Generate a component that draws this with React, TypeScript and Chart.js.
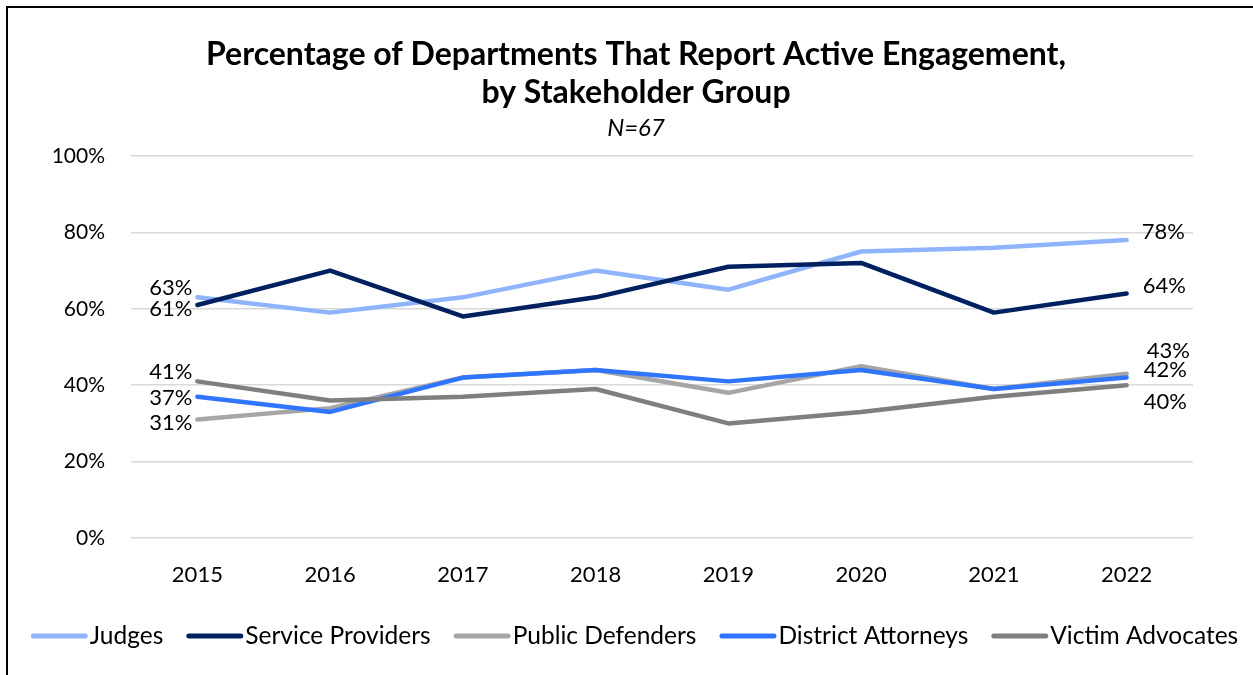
import React, { useEffect, useRef } from "react";
import { Chart, registerables } from "chart.js";

Chart.register(...registerables);

const years = ["2015", "2016", "2017", "2018", "2019", "2020", "2021", "2022"];
const judges = [63, 59, 63, 70, 65, 75, 76, 78];
const serviceProviders = [61, 70, 58, 63, 71, 72, 59, 64];
const publicDefenders = [31, 34, 42, 44, 38, 45, 39, 43];
const districtAttorneys = [37, 33, 42, 44, 41, 44, 39, 42];
const victimAdvocates = [41, 36, 37, 39, 30, 33, 37, 40];
const seriesNames = ["Judges", "Service Providers", "Public Defenders", "District Attorneys", "Victim Advocates"];
const seriesValues = [judges, serviceProviders, publicDefenders, districtAttorneys, victimAdvocates];
const seriesColors = ["#8FB4FC", "#002060", "#A6A6A6", "#2F75FF", "#7F7F7F"];
const yMin = 0;
const yMax = 100;
const yStep = 20;
const titleLines = ["Percentage of Departments That Report Active Engagement,", "by Stakeholder Group"];
const subtitleText = "N=67";

const FONT = "Lato";

// label placement styles (offsets relative to the first/last point)
const firstLabelOffsets = [
  { dx: -5, dy: -9 },
  { dx: -5, dy: 4 },
  { dx: -5, dy: 3 },
  { dx: -5, dy: 1 },
  { dx: -5, dy: -9 },
];
const lastLabelOffsets = [
  { dx: 15, dy: -8 },
  { dx: 16, dy: -8 },
  { dx: 20, dy: -23 },
  { dx: 17, dy: -8 },
  { dx: 17, dy: 17 },
];

const endLabelsPlugin = {
  id: "endLabels",
  afterDatasetsDraw(chart: any) {
    const ctx = chart.ctx;
    ctx.save();
    ctx.font = `22px ${FONT}`;
    ctx.fillStyle = "#000";
    ctx.textBaseline = "middle";
    chart.data.datasets.forEach((ds: any, i: number) => {
      const meta = chart.getDatasetMeta(i);
      const pts = meta.data;
      if (!pts.length) return;
      const first = pts[0];
      const last = pts[pts.length - 1];
      const f = firstLabelOffsets[i];
      const l = lastLabelOffsets[i];
      ctx.textAlign = "right";
      ctx.fillText(ds.data[0] + "%", first.x + f.dx, first.y + f.dy);
      ctx.textAlign = "left";
      ctx.fillText(ds.data[ds.data.length - 1] + "%", last.x + l.dx, last.y + l.dy);
    });
    ctx.restore();
  },
};

const customLegendPlugin = {
  id: "customLegend",
  afterDraw(chart: any) {
    const ctx = chart.ctx;
    ctx.save();
    ctx.font = `24.5px ${FONT}`;
    const sample = 57;
    const gapText = 2;
    const gapItem = 23;
    const items = chart.data.datasets.map((ds: any) => ({
      label: ds.label,
      color: ds.borderColor,
      w: ctx.measureText(ds.label).width,
    }));
    const total =
      items.reduce((s: number, it: any) => s + sample + gapText + it.w, 0) + gapItem * (items.length - 1);
    let x = (chart.width - total) / 2 + 4;
    const y = 628;
    ctx.textBaseline = "middle";
    ctx.textAlign = "left";
    items.forEach((it: any) => {
      ctx.strokeStyle = it.color;
      ctx.lineWidth = 5;
      ctx.lineCap = "round";
      ctx.beginPath();
      ctx.moveTo(x + 2.5, y);
      ctx.lineTo(x + sample - 2.5, y);
      ctx.stroke();
      x += sample + gapText;
      ctx.fillStyle = "#000";
      ctx.fillText(it.label, x, y);
      x += it.w + gapItem;
    });
    ctx.restore();
  },
};

export default function App() {
  const canvasRef = useRef<HTMLCanvasElement | null>(null);

  useEffect(() => {
    if (!canvasRef.current) return;
    Chart.defaults.font.family = FONT;
    Chart.defaults.color = "#000";
    const n = seriesNames.length;
    const chart = new Chart(canvasRef.current, {
      type: "line",
      data: {
        labels: years,
        datasets: seriesNames.map((name, i) => ({
          label: name,
          data: seriesValues[i],
          borderColor: seriesColors[i],
          backgroundColor: seriesColors[i],
          borderWidth: 4.5,
          borderCapStyle: "round",
          borderJoinStyle: "round",
          pointRadius: 0,
          pointHoverRadius: 0,
          tension: 0,
          fill: false,
          order: n - i,
          yAxisID: "y",
        })),
      },
      options: {
        animation: false,
        responsive: true,
        maintainAspectRatio: false,
        events: [],
        layout: { padding: { left: 11, right: 0, top: 0, bottom: 0 } },
        plugins: {
          legend: { display: false },
          tooltip: { enabled: false },
          title: {
            display: true,
            text: titleLines,
            color: "#000",
            font: { family: FONT, size: 32, weight: "bold", lineHeight: "38px" },
            padding: { top: 28, bottom: 4 },
          },
          subtitle: {
            display: true,
            text: subtitleText,
            color: "#000",
            font: { family: FONT, size: 24, style: "italic", lineHeight: "24px" },
            padding: { top: 0, bottom: 16 },
          },
        },
        scales: {
          x: {
            type: "category",
            offset: true,
            grid: { display: false, drawTicks: false },
            border: { display: false },
            ticks: { padding: 24, font: { family: FONT, size: 22 }, color: "#000", maxRotation: 0 },
            afterFit: (axis: any) => {
              axis.height = 137;
            },
          },
          y: {
            position: "left",
            min: yMin,
            max: yMax,
            grid: { color: "#D9D9D9", lineWidth: 1.5, drawTicks: false },
            border: { display: false },
            ticks: {
              stepSize: yStep,
              padding: 26,
              font: { family: FONT, size: 21 },
              color: "#000",
              callback: (v: any) => v + "%",
            },
            afterFit: (axis: any) => {
              axis.width = 112;
            },
          },
          yRight: {
            position: "right",
            min: yMin,
            max: yMax,
            grid: { display: false, drawTicks: false },
            border: { display: false },
            ticks: { display: false },
            afterFit: (axis: any) => {
              axis.width = 60;
            },
          },
        },
      },
      plugins: [endLabelsPlugin, customLegendPlugin],
    } as any);
    return () => chart.destroy();
  }, []);

  return (
    <div style={{ position: "absolute", left: 0, top: 0, width: 1253, height: 675, overflow: "hidden", background: "#fff" }}>
      <div
        style={{
          position: "absolute",
          left: 6,
          top: 6,
          width: 1300,
          height: 700,
          borderLeft: "2px solid #000",
          borderTop: "2px solid #000",
          boxSizing: "border-box",
        }}
      />
      <div style={{ position: "absolute", left: 8, top: 8, width: 1245, height: 667 }}>
        <canvas ref={canvasRef} />
      </div>
    </div>
  );
}
